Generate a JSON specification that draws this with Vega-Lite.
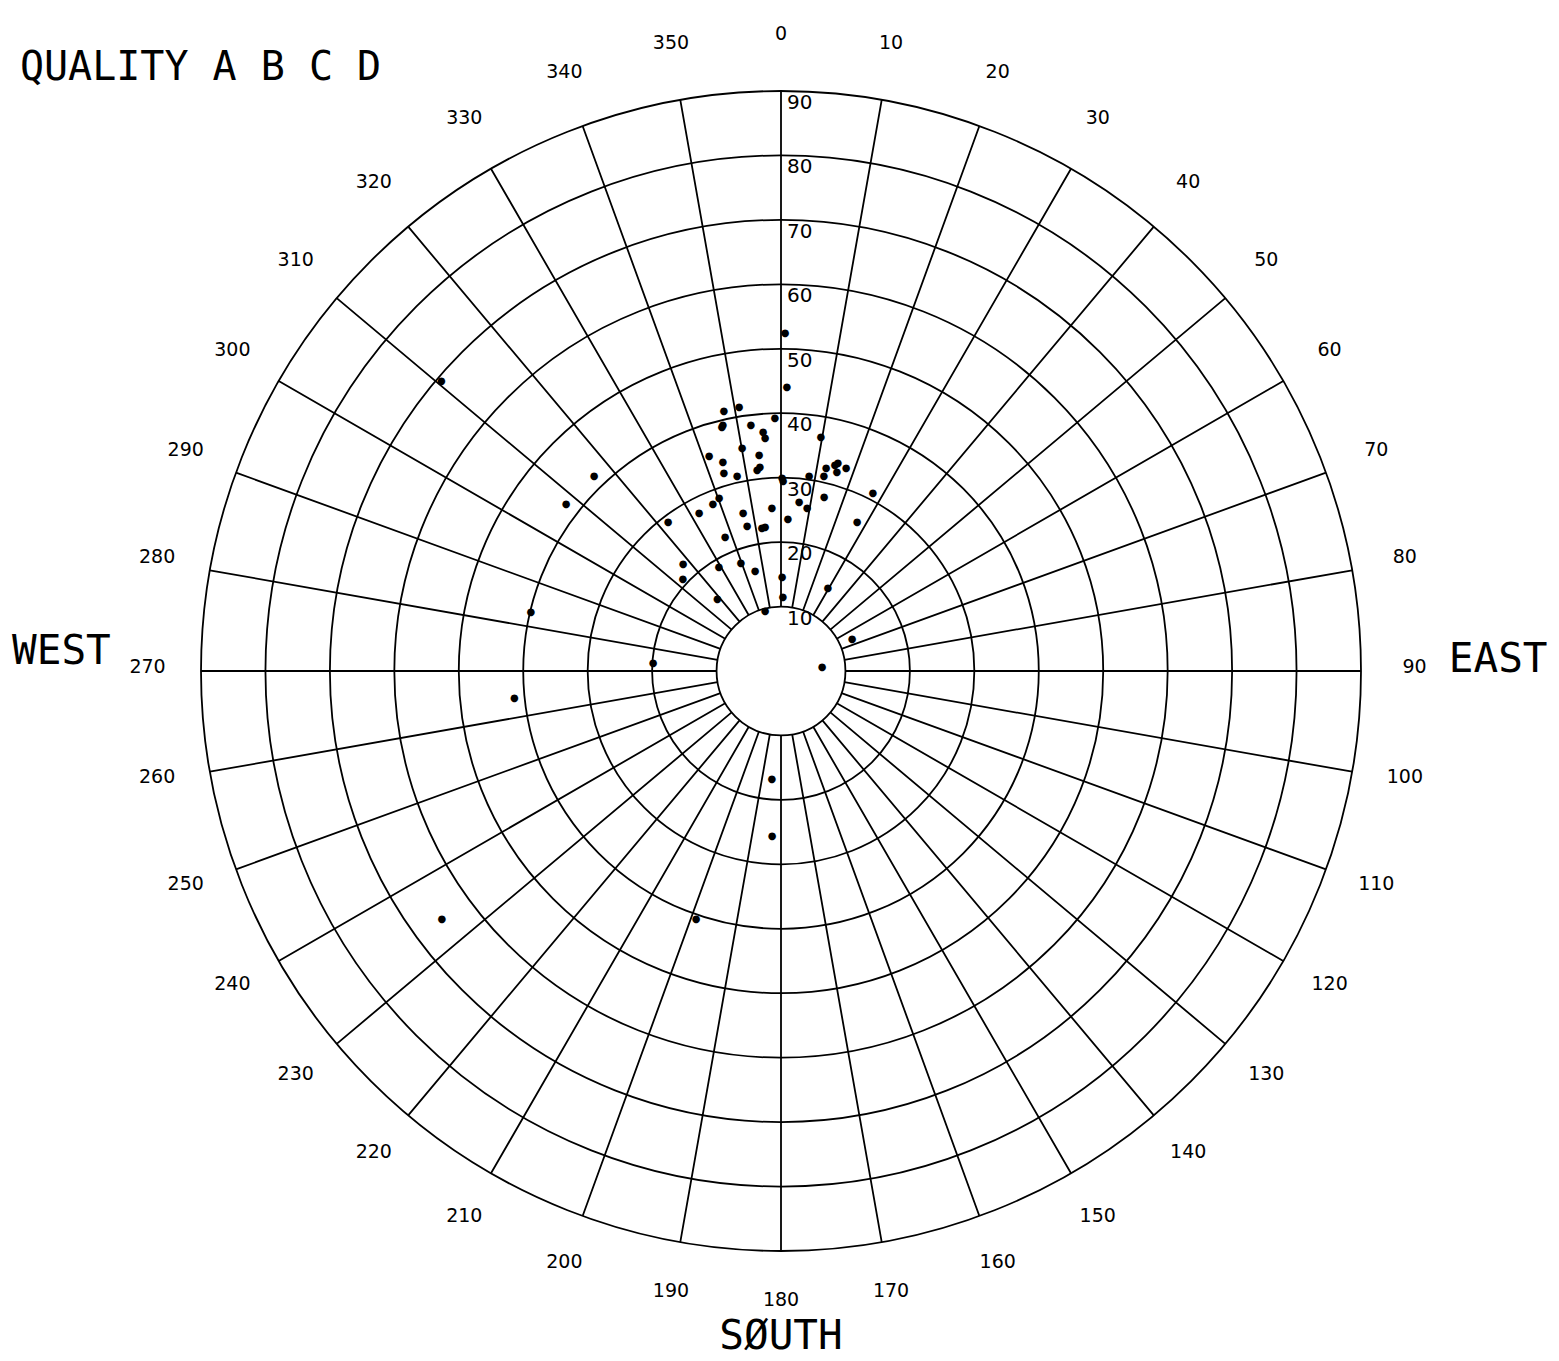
{
  "$schema": "https://vega.github.io/schema/vega-lite/v6.json",
  "width": 1556,
  "height": 1342,
  "autosize": {"type": "none"},
  "padding": {"left": 3, "top": 0, "right": 0, "bottom": 17},
  "background": "white",
  "config": {"view": {"stroke": null}},
  "datasets": {
    "rings": [{"ring": 10}, {"ring": 20}, {"ring": 30}, {"ring": 40}, {"ring": 50}, {"ring": 60}, {"ring": 70}, {"ring": 80}, {"ring": 90}],
    "spokes": [{"az": 0}, {"az": 10}, {"az": 20}, {"az": 30}, {"az": 40}, {"az": 50}, {"az": 60}, {"az": 70}, {"az": 80}, {"az": 90}, {"az": 100}, {"az": 110}, {"az": 120}, {"az": 130}, {"az": 140}, {"az": 150}, {"az": 160}, {"az": 170}, {"az": 180}, {"az": 190}, {"az": 200}, {"az": 210}, {"az": 220}, {"az": 230}, {"az": 240}, {"az": 250}, {"az": 260}, {"az": 270}, {"az": 280}, {"az": 290}, {"az": 300}, {"az": 310}, {"az": 320}, {"az": 330}, {"az": 340}, {"az": 350}],
    "obs": [
      {"az": 0.7, "dist": 52.5}, {"az": 1.2, "dist": 44.1}, {"az": 347.6, "dist": 41.3}, {"az": 351.0, "dist": 41.5},
      {"az": 346.7, "dist": 39.2}, {"az": 346.4, "dist": 39.0}, {"az": 353.0, "dist": 38.5}, {"az": 355.7, "dist": 37.2},
      {"az": 356.1, "dist": 36.2}, {"az": 358.6, "dist": 39.3}, {"az": 350.1, "dist": 35.1}, {"az": 341.5, "dist": 35.2},
      {"az": 354.2, "dist": 33.7}, {"az": 344.5, "dist": 33.7}, {"az": 343.9, "dist": 32.0}, {"az": 347.3, "dist": 31.0},
      {"az": 354.1, "dist": 31.8}, {"az": 353.2, "dist": 31.4}, {"az": 0.6, "dist": 29.5}, {"az": 0.3, "dist": 30.0},
      {"az": 8.2, "dist": 30.6}, {"az": 9.7, "dist": 36.8}, {"az": 12.5, "dist": 32.3}, {"az": 12.4, "dist": 31.0},
      {"az": 14.7, "dist": 33.0}, {"az": 15.3, "dist": 33.5}, {"az": 15.7, "dist": 32.1}, {"az": 17.8, "dist": 33.1},
      {"az": 27.3, "dist": 31.1}, {"az": 13.9, "dist": 27.8}, {"az": 6.1, "dist": 26.4}, {"az": 9.1, "dist": 25.6},
      {"az": 2.6, "dist": 23.6}, {"az": 27.0, "dist": 26.0}, {"az": 356.8, "dist": 25.3}, {"az": 346.5, "dist": 25.2},
      {"az": 346.8, "dist": 23.1}, {"az": 352.4, "dist": 22.4}, {"az": 353.7, "dist": 22.5}, {"az": 337.3, "dist": 22.5},
      {"az": 337.8, "dist": 28.0}, {"az": 340.3, "dist": 28.5}, {"az": 332.6, "dist": 27.6}, {"az": 322.8, "dist": 29.0},
      {"az": 317.5, "dist": 22.5}, {"az": 313.2, "dist": 20.9}, {"az": 329.2, "dist": 18.8}, {"az": 339.7, "dist": 17.9},
      {"az": 345.4, "dist": 16.0}, {"az": 0.6, "dist": 14.6}, {"az": 1.5, "dist": 11.5}, {"az": 318.4, "dist": 14.9},
      {"az": 345.1, "dist": 9.6}, {"az": 29.5, "dist": 14.8}, {"az": 65.7, "dist": 12.1}, {"az": 84.4, "dist": 6.4},
      {"az": 273.6, "dist": 19.9}, {"az": 184.8, "dist": 16.8}, {"az": 183.1, "dist": 25.6}, {"az": 198.9, "dist": 40.7},
      {"az": 310.5, "dist": 69.3}, {"az": 316.2, "dist": 41.9}, {"az": 307.8, "dist": 42.2}, {"az": 283.3, "dist": 39.9},
      {"az": 264.2, "dist": 41.6}, {"az": 233.8, "dist": 65.2}
    ]
  },
  "layer": [
    {
      "data": {"name": "rings"},
      "mark": {"type": "arc", "filled": false, "stroke": "black", "strokeWidth": 1.8},
      "encoding": {
        "theta": {"datum": 0, "type": "quantitative", "stack": null, "scale": {"type": "linear", "domain": [0, 360], "range": [0, 6.283185307179586], "zero": true}},
        "theta2": {"datum": 360},
        "radius": {"field": "ring", "type": "quantitative", "stack": null, "scale": {"type": "linear", "domain": [0, 90], "range": [0, 580], "zero": true}}
      }
    },
    {
      "data": {"name": "spokes"},
      "mark": {"type": "arc", "filled": false, "stroke": "black", "strokeWidth": 1.8},
      "encoding": {
        "theta": {"field": "az", "type": "quantitative", "stack": null},
        "theta2": {"field": "az"},
        "radius": {"datum": 90, "type": "quantitative", "stack": null},
        "radius2": {"datum": 10}
      }
    },
    {
      "data": {"name": "spokes"},
      "mark": {"type": "text", "font": "DejaVu Sans", "fontSize": 19, "align": "center", "baseline": "middle", "dy": -4, "color": "black"},
      "encoding": {
        "theta": {"field": "az", "type": "quantitative", "stack": null},
        "radius": {"datum": 98.3, "type": "quantitative", "stack": null},
        "text": {"field": "az", "type": "quantitative"}
      }
    },
    {
      "data": {"name": "rings"},
      "mark": {"type": "text", "font": "DejaVu Sans", "fontSize": 20, "align": "left", "baseline": "top", "dx": 6, "dy": 2, "color": "black"},
      "encoding": {
        "theta": {"datum": 0, "type": "quantitative", "stack": null},
        "radius": {"field": "ring", "type": "quantitative", "stack": null},
        "text": {"field": "ring", "type": "quantitative"}
      }
    },
    {
      "data": {"name": "obs"},
      "mark": {"type": "text", "text": "●", "font": "DejaVu Sans", "fontSize": 10, "align": "center", "baseline": "middle", "color": "black"},
      "encoding": {
        "theta": {"field": "az", "type": "quantitative", "stack": null},
        "radius": {"field": "dist", "type": "quantitative", "stack": null}
      }
    },
    {
      "data": {"values": [{"label": "WEST"}]},
      "mark": {"type": "text", "font": "DejaVu Sans Mono", "fontSize": 41, "align": "center", "baseline": "middle", "color": "black"},
      "encoding": {
        "theta": {"datum": 271.5, "type": "quantitative", "stack": null},
        "radius": {"datum": 111.7, "type": "quantitative", "stack": null},
        "text": {"field": "label"}
      }
    },
    {
      "data": {"values": [{"label": "EAST"}]},
      "mark": {"type": "text", "font": "DejaVu Sans Mono", "fontSize": 41, "align": "center", "baseline": "middle", "color": "black"},
      "encoding": {
        "theta": {"datum": 89.1, "type": "quantitative", "stack": null},
        "radius": {"datum": 111.3, "type": "quantitative", "stack": null},
        "text": {"field": "label"}
      }
    },
    {
      "data": {"values": [{"label": "SØUTH"}]},
      "mark": {"type": "text", "font": "DejaVu Sans Mono", "fontSize": 41, "align": "center", "baseline": "middle", "color": "black"},
      "encoding": {
        "theta": {"datum": 180, "type": "quantitative", "stack": null},
        "radius": {"datum": 103.4, "type": "quantitative", "stack": null},
        "text": {"field": "label"}
      }
    },
    {
      "data": {"values": [{"label": "QUALITY  A B C D"}]},
      "mark": {"type": "text", "font": "DejaVu Sans Mono", "fontSize": 40, "align": "center", "baseline": "middle", "color": "black"},
      "encoding": {
        "theta": {"datum": 316.1, "type": "quantitative", "stack": null},
        "radius": {"datum": 129.9, "type": "quantitative", "stack": null},
        "text": {"field": "label"}
      }
    }
  ]
}
